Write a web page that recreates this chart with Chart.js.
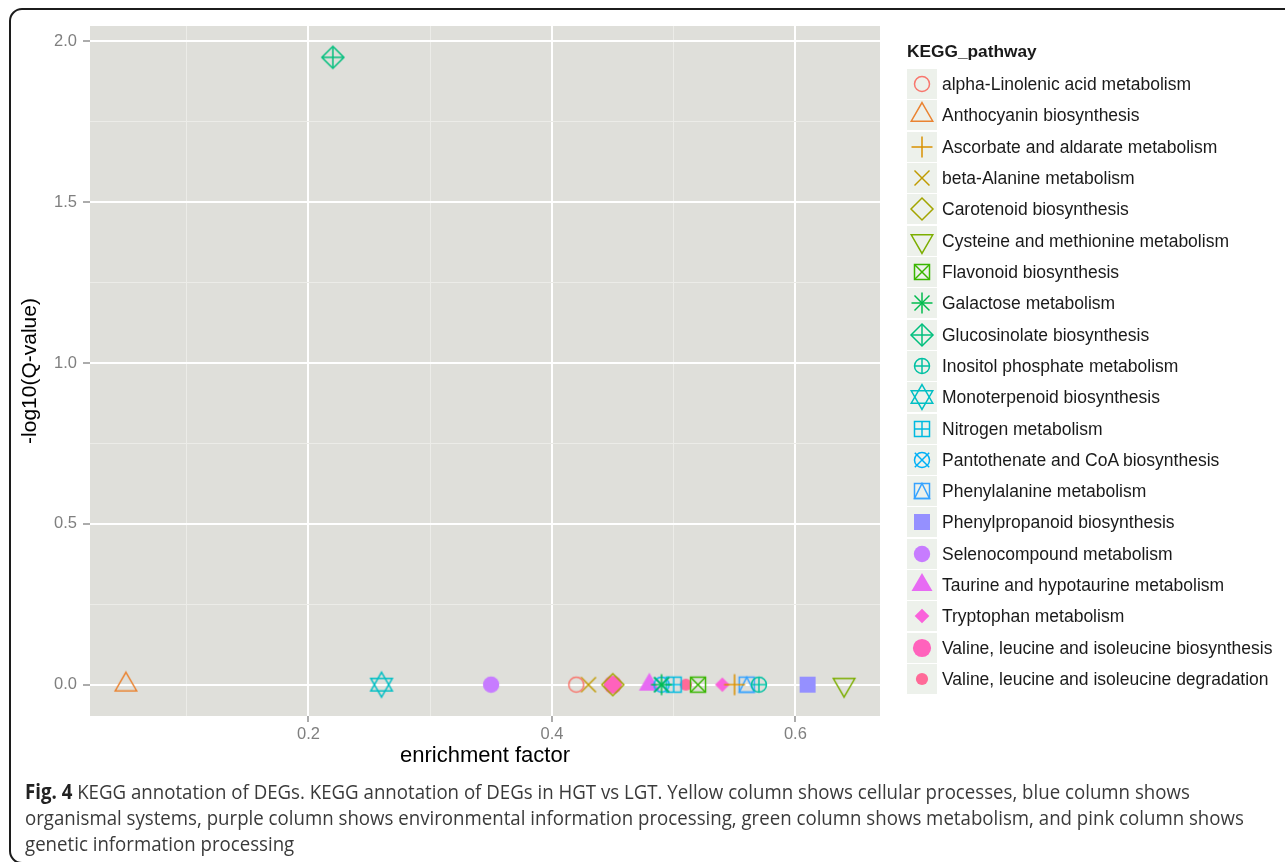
<!DOCTYPE html>
<html>
<head>
<meta charset="utf-8">
<script src="https://cdn.jsdelivr.net/npm/chart.js@4.4.1/dist/chart.umd.min.js"></script>
<style>
  html, body { margin:0; padding:0; background:#ffffff; width:1285px; height:862px; overflow:hidden; }
  #frame { position:absolute; left:9px; top:8px; width:1330px; height:856px; border:2px solid #1c1c1c; border-radius:13px; box-sizing:border-box; }
  #chartCanvas { position:absolute; left:0; top:0; }
  #legend { position:absolute; left:907px; top:0; font-family:"Liberation Sans", Arial, sans-serif; color:#1a1a1a; }
  #legendTitle { position:absolute; left:0; top:41px; font-weight:bold; font-size:17.3px; white-space:nowrap; }
  .lrow { position:absolute; left:0; height:30px; white-space:nowrap; }
  .lrow canvas { position:absolute; left:0; top:0; }
  .lrow span { position:absolute; left:35px; top:4px; font-size:17.5px; line-height:22px; }
  #caption { position:absolute; left:25px; top:778px; font-family:"Open Sans", sans-serif; font-size:20.5px; line-height:26px; color:#3a3a3a; transform-origin:0 0; }
  #caption div { white-space:nowrap; }
  #caption span.l { display:inline-block; }
  #caption b { color:#222; font-weight:700; }
</style>
</head>
<body>
<div id="frame"></div>
<canvas id="chartCanvas" width="1285" height="862"></canvas>
<div id="legend"><div id="legendTitle">KEGG_pathway</div></div>
<div id="caption">
  <div><span class="l" id="capLine1"><b>Fig. 4</b> KEGG annotation of DEGs. KEGG annotation of DEGs in HGT vs LGT. Yellow column shows cellular processes, blue column shows</span></div>
  <div><span class="l">organismal systems, purple column shows environmental information processing, green column shows metabolism, and pink column shows</span></div>
  <div><span class="l">genetic information processing</span></div>
</div>
<script>
// ---------------- data ----------------
const pathways = [
  "alpha-Linolenic acid metabolism",
  "Anthocyanin biosynthesis",
  "Ascorbate and aldarate metabolism",
  "beta-Alanine metabolism",
  "Carotenoid biosynthesis",
  "Cysteine and methionine metabolism",
  "Flavonoid biosynthesis",
  "Galactose metabolism",
  "Glucosinolate biosynthesis",
  "Inositol phosphate metabolism",
  "Monoterpenoid biosynthesis",
  "Nitrogen metabolism",
  "Pantothenate and CoA biosynthesis",
  "Phenylalanine metabolism",
  "Phenylpropanoid biosynthesis",
  "Selenocompound metabolism",
  "Taurine and hypotaurine metabolism",
  "Tryptophan metabolism",
  "Valine, leucine and isoleucine biosynthesis",
  "Valine, leucine and isoleucine degradation"
];
const enrichmentFactor = [0.42, 0.05, 0.55, 0.43, 0.45, 0.64, 0.52, 0.49, 0.22, 0.57,
                          0.26, 0.50, 0.49, 0.56, 0.61, 0.35, 0.48, 0.54, 0.45, 0.51];
const negLog10Q = [0, 0, 0, 0, 0, 0, 0, 0, 1.95, 0,
                   0, 0, 0, 0, 0, 0, 0, 0, 0, 0];
const colors = ["#F8766D","#EA8331","#D89000","#C09B00","#A3A500","#7CAE00","#39B600","#00BB4E","#00BF7D","#00C1A3",
                "#00BFC4","#00BAE0","#00B0F6","#35A2FF","#9590FF","#C77CFF","#E76BF3","#FA62DB","#FF62BC","#FF6A98"];
const shapes = ["circleOpen","triangleOpen","plus","cross","diamondOpen","triangleDown","squareCross","asterisk","diamondPlus","circlePlus",
                "starDavid","squarePlus","circleCross","squareTriangle","squareFilled","circleFilled","triangleFilled","diamondFilled","circleBig","circleSmall"];
const xMajorTicks = [0.2, 0.4, 0.6];
const xTickLabels = ["0.2", "0.4", "0.6"];
const xMinorTicks = [0.1, 0.3, 0.5];
const yMajorTicks = [0, 0.5, 1.0, 1.5, 2.0];
const yTickLabels = ["0.0", "0.5", "1.0", "1.5", "2.0"];
const yMinorTicks = [0.25, 0.75, 1.25, 1.75];
const xRange = [0.0205, 0.6695];
const yRange = [-0.0975, 2.0475];

// ---------------- marker drawing ----------------
function drawShape(ctx, shape, color, cx, cy) {
  ctx.save();
  ctx.strokeStyle = color; ctx.fillStyle = color; ctx.lineWidth = 1.5; ctx.lineJoin = "miter";
  const tri = (w, up) => { const h = w * Math.sqrt(3) / 2; const s = up ? 1 : -1;
    ctx.beginPath(); ctx.moveTo(cx, cy - s * 2 * h / 3); ctx.lineTo(cx + w / 2, cy + s * h / 3); ctx.lineTo(cx - w / 2, cy + s * h / 3); ctx.closePath(); };
  const circ = r => { ctx.beginPath(); ctx.arc(cx, cy, r, 0, Math.PI * 2); };
  const seg = (x1, y1, x2, y2) => { ctx.beginPath(); ctx.moveTo(cx + x1, cy + y1); ctx.lineTo(cx + x2, cy + y2); ctx.stroke(); };
  const plus = a => { seg(-a, 0, a, 0); seg(0, -a, 0, a); };
  const xx = a => { seg(-a, -a, a, a); seg(-a, a, a, -a); };
  const sq = a => { ctx.beginPath(); ctx.rect(cx - a, cy - a, 2 * a, 2 * a); };
  const dia = a => { ctx.beginPath(); ctx.moveTo(cx, cy - a); ctx.lineTo(cx + a, cy); ctx.lineTo(cx, cy + a); ctx.lineTo(cx - a, cy); ctx.closePath(); };
  switch (shape) {
    case "circleOpen": circ(7.5); ctx.stroke(); break;
    case "triangleOpen": tri(21.5, true); ctx.stroke(); break;
    case "plus": plus(10.5); break;
    case "cross": xx(7.5); break;
    case "diamondOpen": dia(11); ctx.stroke(); break;
    case "triangleDown": tri(21.5, false); ctx.stroke(); break;
    case "squareCross": sq(7.5); ctx.stroke(); xx(7.5); break;
    case "asterisk": plus(10.5); xx(7.5); break;
    case "diamondPlus": dia(11); ctx.stroke(); plus(11); break;
    case "circlePlus": circ(7.5); ctx.stroke(); plus(7.5); break;
    case "starDavid": tri(21.5, true); ctx.stroke(); tri(21.5, false); ctx.stroke(); break;
    case "squarePlus": sq(7.5); ctx.stroke(); plus(7.5); break;
    case "circleCross": circ(7.5); ctx.stroke(); xx(7.2); break;
    case "squareTriangle": sq(7.5); ctx.stroke();
      ctx.beginPath(); ctx.moveTo(cx, cy - 7.5); ctx.lineTo(cx + 7.5, cy + 7.5); ctx.lineTo(cx - 7.5, cy + 7.5); ctx.closePath(); ctx.stroke(); break;
    case "squareFilled": sq(8); ctx.fill(); break;
    case "circleFilled": circ(8.2); ctx.fill(); break;
    case "triangleFilled": tri(21, true); ctx.fill(); break;
    case "diamondFilled": dia(7.3); ctx.fill(); break;
    case "circleBig": circ(9.1); ctx.fill(); break;
    case "circleSmall": circ(6.1); ctx.fill(); break;
  }
  ctx.restore();
}
function makeMarker(shape, color, size, bg) {
  const c = document.createElement("canvas");
  c.width = size; c.height = size;
  const g = c.getContext("2d");
  if (bg) { g.fillStyle = bg; g.fillRect(0, 0, size, size); }
  drawShape(g, shape, color, size / 2, size / 2);
  return c;
}

// ---------------- legend (HTML) ----------------
const legendEl = document.getElementById("legend");
pathways.forEach((name, i) => {
  const row = document.createElement("div");
  row.className = "lrow";
  row.style.top = (69 + i * 31.32) + "px";
  row.appendChild(makeMarker(shapes[i], colors[i], 30, "#EDF1EB"));
  const sp = document.createElement("span");
  sp.textContent = name;
  row.appendChild(sp);
  legendEl.appendChild(row);
});

// ---------------- chart ----------------
const FONT = '"Liberation Sans", Arial, sans-serif';
Chart.defaults.font.family = FONT;
const near = (v, arr) => arr.findIndex(a => Math.abs(a - v) < 1e-6);

const panelBg = {
  id: "panelBg",
  beforeDraw(chart) {
    const { ctx, chartArea: a } = chart;
    ctx.save(); ctx.fillStyle = "#DFDFDA"; ctx.fillRect(a.left, a.top, a.right - a.left, a.bottom - a.top); ctx.restore();
  }
};

const filledShapes = ["squareFilled","circleFilled","triangleFilled","diamondFilled","circleBig","circleSmall"];
const datasets = pathways.map((name, i) => ({
  label: name,
  data: [{ x: enrichmentFactor[i], y: negLog10Q[i] }],
  pointStyle: makeMarker(shapes[i], colors[i], 36, null),
  pointRadius: 6,
  borderColor: colors[i],
  backgroundColor: colors[i],
  showLine: false,
  order: filledShapes.includes(shapes[i]) ? 1 : 0
}));

new Chart(document.getElementById("chartCanvas"), {
  type: "scatter",
  data: { datasets },
  plugins: [panelBg],
  options: {
    responsive: false,
    animation: false,
    events: [],
    layout: { padding: { left: 14, top: 26, right: 405, bottom: 89 } },
    plugins: { legend: { display: false }, tooltip: { enabled: false } },
    scales: {
      x: {
        type: "linear", min: xRange[0], max: xRange[1],
        afterBuildTicks: s => { s.ticks = xMinorTicks.concat(xMajorTicks).sort((a, b) => a - b).map(v => ({ value: v })); },
        afterFit: s => { s.height = 57; },
        border: { display: false },
        grid: {
          color: c => near(c.tick.value, xMajorTicks) >= 0 ? "#FFFFFF" : "#ECECE8",
          lineWidth: c => near(c.tick.value, xMajorTicks) >= 0 ? 2 : 1,
          tickColor: c => near(c.tick.value, xMajorTicks) >= 0 ? "#7F7F7F" : "rgba(0,0,0,0)",
          tickLength: 6, tickWidth: 1.3
        },
        ticks: {
          autoSkip: false, maxRotation: 0, padding: 3, color: "#7F7F7F", font: { size: 16.5 },
          callback: v => { const k = near(v, xMajorTicks); return k >= 0 ? xTickLabels[k] : ""; }
        },
        title: { display: true, text: "enrichment factor", color: "#000", font: { size: 22 }, padding: { top: 0, bottom: 4 } }
      },
      y: {
        type: "linear", min: yRange[0], max: yRange[1],
        afterBuildTicks: s => { s.ticks = yMinorTicks.concat(yMajorTicks).sort((a, b) => a - b).map(v => ({ value: v })); },
        afterFit: s => { s.width = 76; },
        border: { display: false },
        grid: {
          color: c => near(c.tick.value, yMajorTicks) >= 0 ? "#FFFFFF" : "#ECECE8",
          lineWidth: c => near(c.tick.value, yMajorTicks) >= 0 ? 2 : 1,
          tickColor: c => near(c.tick.value, yMajorTicks) >= 0 ? "#7F7F7F" : "rgba(0,0,0,0)",
          tickLength: 7, tickWidth: 1.3
        },
        ticks: {
          autoSkip: false, padding: 6, color: "#7F7F7F", font: { size: 16.5 },
          callback: v => { const k = near(v, yMajorTicks); return k >= 0 ? yTickLabels[k] : ""; }
        },
        title: { display: true, text: "-log10(Q-value)", color: "#000", font: { size: 21 }, padding: { top: 4, bottom: 0 } }
      }
    }
  }
});

// ---------------- caption width fit ----------------
(function fitCaption() {
  const l1 = document.getElementById("capLine1");
  const w = l1.offsetWidth;
  if (w > 0) {
    const f = 1165 / w;
    document.getElementById("caption").style.transform = "scaleX(" + f + ")";
  }
})();
</script>
</body>
</html>
